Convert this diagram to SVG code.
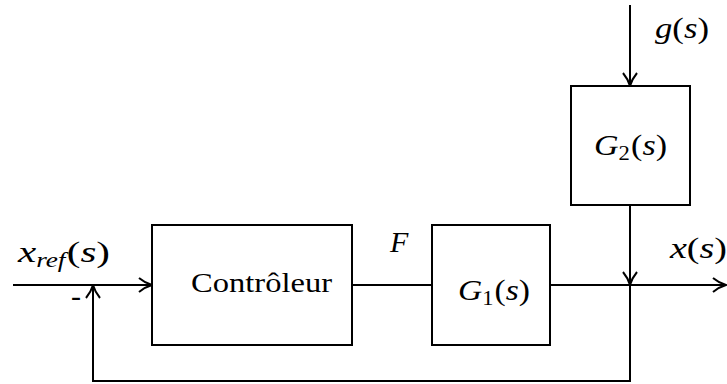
<svg xmlns="http://www.w3.org/2000/svg" width="727" height="384" viewBox="0 0 727 384">
<style>
.ln{stroke:#000;stroke-width:2;fill:none}
.bx{stroke:#000;stroke-width:2;fill:#fff}
text{font-family:'Liberation Serif','DejaVu Serif','Times New Roman',serif}
</style>
<defs>
<marker id="a" viewBox="0 0 20 20" refX="19" refY="10" markerWidth="20" markerHeight="20" markerUnits="userSpaceOnUse" orient="auto">
<path d="M6,3 Q12,8 19,10 Q12,12 6,17" fill="none" stroke="#000" stroke-width="2"/>
</marker>
</defs>
<g id="connectors">
<line class="ln" x1="13" y1="285" x2="152" y2="285" marker-end="url(#a)"/>
<line class="ln" x1="352" y1="285" x2="432" y2="285"/>
<line class="ln" x1="550" y1="285" x2="726" y2="285" marker-end="url(#a)"/>
<line class="ln" x1="630" y1="5" x2="630" y2="86" marker-end="url(#a)"/>
<line class="ln" x1="630" y1="205" x2="630" y2="285" marker-end="url(#a)"/>
<polyline class="ln" points="630,285 630,381 93,381 93,285" marker-end="url(#a)"/>
</g>
<g font-size="30" fill="#000">
<g id="controleur">
<rect class="bx" x="152" y="225" width="200" height="120"/>
<text x="191" y="292" font-size="28" textLength="141" lengthAdjust="spacingAndGlyphs">Contrôleur</text>
</g>
<g id="g1">
<rect class="bx" x="432" y="225" width="118" height="120"/>
<text x="458" y="300" textLength="72" lengthAdjust="spacingAndGlyphs"><tspan font-style="italic">G</tspan><tspan font-size="20" dy="5">1</tspan><tspan dy="-5" dx="1">(</tspan><tspan font-style="italic">s</tspan>)</text>
</g>
<g id="g2">
<rect class="bx" x="571" y="86" width="119" height="119"/>
<text x="594" y="155" textLength="73" lengthAdjust="spacingAndGlyphs"><tspan font-style="italic">G</tspan><tspan font-size="20" dy="5">2</tspan><tspan dy="-5" dx="1">(</tspan><tspan font-style="italic">s</tspan>)</text>
</g>
<g id="labels">
<text x="18" y="262" textLength="92" lengthAdjust="spacingAndGlyphs"><tspan font-style="italic">x</tspan><tspan font-style="italic" font-size="20" dy="5">ref</tspan><tspan dy="-5" dx="1">(</tspan><tspan font-style="italic">s</tspan>)</text>
<text x="390" y="252" font-style="italic">F</text>
<text x="670" y="258" textLength="57" lengthAdjust="spacingAndGlyphs"><tspan font-style="italic">x</tspan>(<tspan font-style="italic">s</tspan>)</text>
<text x="655" y="38" textLength="54" lengthAdjust="spacingAndGlyphs"><tspan font-style="italic">g</tspan>(<tspan font-style="italic">s</tspan>)</text>
<text x="76" y="306" text-anchor="middle">-</text>
</g>
</g>
</svg>
